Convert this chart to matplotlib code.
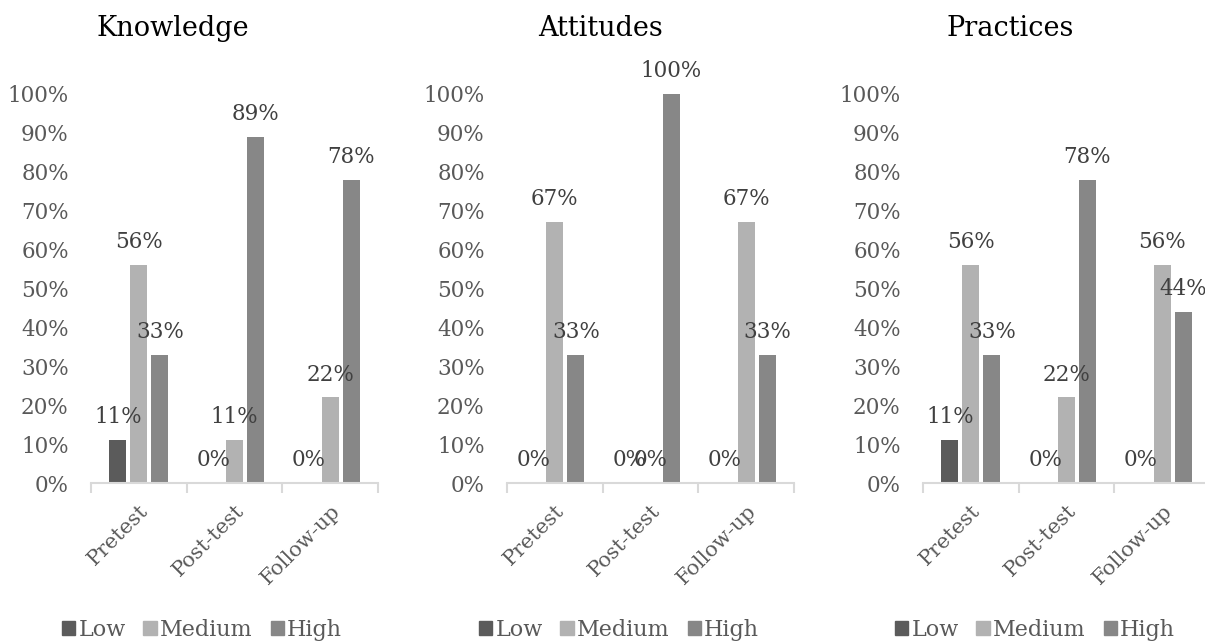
import numpy as np
import matplotlib
matplotlib.use("Agg")
import matplotlib.pyplot as plt
from matplotlib.patches import Patch

plt.rcParams['font.family'] = ['DejaVu Serif']

stages = ["Pretest", "Post-test", "Follow-up"]
levels = ["Low", "Medium", "High"]
panels = ["Knowledge", "Attitudes", "Practices"]

knowledge_low = [11, 0, 0]
knowledge_med = [56, 11, 22]
knowledge_high = [33, 89, 78]

attitudes_low = [0, 0, 0]
attitudes_med = [67, 0, 67]
attitudes_high = [33, 100, 33]

practices_low = [11, 0, 0]
practices_med = [56, 22, 56]
practices_high = [33, 78, 44]

data = {
    "Knowledge": [knowledge_low, knowledge_med, knowledge_high],
    "Attitudes": [attitudes_low, attitudes_med, attitudes_high],
    "Practices": [practices_low, practices_med, practices_high],
}
colors = ["#5b5b5b", "#b2b2b2", "#878787"]

W, H = 1205, 643
fig = plt.figure(figsize=(W / 100, H / 100), dpi=100)

ax_left = [91, 507, 923]
ax_w = 287
y0, y100 = 483, 94
title_x = [173, 600, 1010]
legend_x = [202, 619, 1035]

width = 0.18
step = 0.22
x = np.arange(len(stages))

for i, name in enumerate(panels):
    ax = fig.add_axes([ax_left[i] / W, (H - y0) / H, ax_w / W, (y0 - y100) / H])
    for j, (vals, c) in enumerate(zip(data[name], colors)):
        xs = x + (j - 1) * step
        ax.bar(xs, np.array(vals) / 100, width=width, color=c, label=levels[j])
        for xx, v in zip(xs, vals):
            ax.annotate(f"{v}%", (xx, v / 100), xytext=(0, 16.5), textcoords="offset points",
                        ha="center", va="center", fontsize=15.5, color="#404040",
                        annotation_clip=False)
    ax.set_xlim(-0.5, 2.5)
    ax.set_ylim(0, 1)
    ax.set_yticks(np.arange(0, 1.01, 0.1))
    ax.set_yticklabels([f"{int(round(t * 100))}%" for t in np.arange(0, 1.01, 0.1)])
    ax.tick_params(axis="y", length=0, pad=16, labelsize=15.5, labelcolor="#595959")
    ax.set_xticks(x)
    ax.set_xticklabels(stages, rotation=45, ha="right", rotation_mode="anchor")
    ax.tick_params(axis="x", length=0, pad=13, labelsize=15, labelcolor="#595959")
    ax.set_xticks([-0.5, 0.5, 1.5, 2.5], minor=True)
    ax.tick_params(axis="x", which="minor", length=7, width=1.5, color="#d9d9d9")
    for s in ["left", "right", "top"]:
        ax.spines[s].set_visible(False)
    ax.spines["bottom"].set_color("#d9d9d9")
    ax.spines["bottom"].set_linewidth(1.5)

    fig.text(title_x[i] / W, (H - 28) / H, name, ha="center", va="center", fontsize=19.5, color="black")
    handles = [Patch(color=c, label=l) for c, l in zip(colors, levels)]
    fig.legend(handles=handles, loc="center", bbox_to_anchor=(legend_x[i] / W, (H - 630) / H),
               ncol=3, frameon=False, fontsize=16, labelcolor="#595959",
               handlelength=0.6, handleheight=0.6, handletextpad=0.15, columnspacing=0.8)

fig.savefig("out.png", dpi=100)
